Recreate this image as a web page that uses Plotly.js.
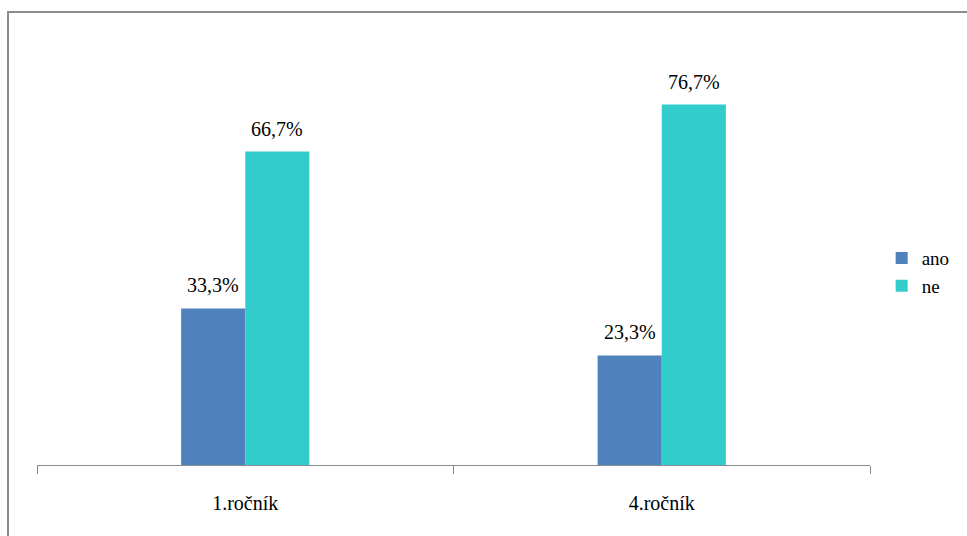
<!DOCTYPE html>
<html>
<head>
<meta charset="utf-8">
<script src="https://cdn.plot.ly/plotly-3.0.1.min.js"></script>
<style>
html,body{margin:0;padding:0;overflow:hidden;background:#fff;}
#chart{width:967px;height:536px;position:relative;}
#chart text{font-family:'Liberation Serif', serif !important;}
#frame{position:absolute;left:7px;top:11px;width:1000px;height:600px;border:2px solid #8c8c8c;pointer-events:none;z-index:10;}
</style>
</head>
<body>
<div id="chart"></div>
<div id="frame"></div>
<script>
const categories = ['1.ročník', '4.ročník'];
const seriesNames = ['ano', 'ne'];
const ano = [33.3, 23.3];
const ne = [66.7, 76.7];
const colors = ['#4F81BD', '#33CCCC'];

function fmt(v){ return v.toFixed(1).replace('.', ',') + '%'; }

const FAMILY = 'Liberation Serif';
function mkFont(size){ return {family: FAMILY, size: size, color: '#000'}; }

const series = [ano, ne];
const traces = series.map((vals, i) => ({
  type: 'bar',
  name: seriesNames[i],
  x: categories,
  y: vals,
  marker: {color: colors[i]},
  hoverinfo: 'none'
}));

// bar width in px: plot width 833, 2 categories, bargap 0.692 -> each bar ~64px
const barPx = 833 / 2 * (1 - 0.692) / 2;
const annotations = [];
series.forEach((vals, i) => {
  vals.forEach((v, j) => {
    annotations.push({
      xref: 'x', yref: 'y',
      x: categories[j], y: v,
      xshift: (i === 0 ? -1 : 1) * barPx / 2,
      yshift: 23,
      text: fmt(v),
      showarrow: false,
      font: mkFont(20),
      xanchor: 'center', yanchor: 'middle'
    });
  });
});

const layout = {
  width: 967,
  height: 536,
  margin: {l: 37, r: 97, t: 42, b: 71, autoexpand: false},
  paper_bgcolor: '#fff',
  plot_bgcolor: '#fff',
  barmode: 'group',
  bargap: 0.692,
  bargroupgap: 0,
  showlegend: true,
  legend: {
    x: 1.014, xanchor: 'left',
    y: 0.456, yanchor: 'middle',
    font: mkFont(19),
    itemwidth: 30,
    tracegroupgap: 0
  },
  annotations: annotations,
  xaxis: {
    type: 'category',
    range: [-0.5, 1.5],
    showline: true,
    linecolor: '#8c8c8c',
    linewidth: 1,
    ticks: 'outside',
    tickson: 'boundaries',
    ticklen: 8,
    tickcolor: '#8c8c8c',
    ticklabelstandoff: 20,
    tickfont: mkFont(20),
    showgrid: false,
    zeroline: false
  },
  yaxis: {
    range: [0, 90],
    visible: false,
    showgrid: false,
    zeroline: false
  }
};

Plotly.newPlot('chart', traces, layout, {displayModeBar: false, staticPlot: true});
</script>
</body>
</html>
